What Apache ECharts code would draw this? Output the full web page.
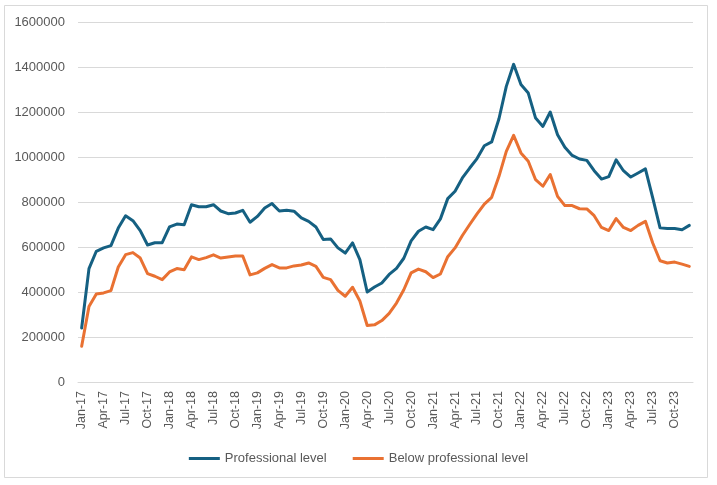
<!DOCTYPE html>
<html>
<head>
<meta charset="utf-8">
<script src="https://cdn.jsdelivr.net/npm/echarts@6/dist/echarts.min.js"></script>
<style>
html,body{margin:0;padding:0;background:#fff;}
#chart{width:717px;height:485px;}
</style>
</head>
<body>
<div id="chart"></div>
<script>
// Category labels: monthly Jan-17 .. Dec-23
const monthNames = ['Jan','Feb','Mar','Apr','May','Jun','Jul','Aug','Sep','Oct','Nov','Dec'];
const years = ['17','18','19','20','21','22','23'];
const categories = [];
years.forEach(y => monthNames.forEach(m => categories.push(m + '-' + y)));

const seriesNames = ['Professional level', 'Below professional level'];

const professional = [
  240000, 504000, 581000, 596000, 606000, 684000, 739000, 717000, 673000, 609000, 619000, 619000,
  689000, 702000, 699000, 788000, 779000, 779000, 788000, 760000, 748000, 751000, 763000, 710000,
  736000, 773000, 793000, 760000, 763000, 759000, 729000, 714000, 689000, 633000, 636000, 596000,
  573000, 618000, 544000, 400000, 422000, 440000, 478000, 505000, 550000, 627000, 670000, 689000,
  677000, 725000, 815000, 848000, 907000, 951000, 993000, 1050000, 1067000, 1170000, 1314000, 1412000,
  1322000, 1284000, 1173000, 1136000, 1200000, 1099000, 1043000, 1007000, 991000, 985000, 939000, 902000,
  913000, 987000, 939000, 911000, 929000, 947000, 818000, 685000, 682000, 682000, 677000, 696000
];

const belowProfessional = [
  159000, 336000, 391000, 396000, 406000, 511000, 566000, 575000, 551000, 482000, 470000, 455000,
  489000, 504000, 499000, 556000, 544000, 553000, 565000, 551000, 556000, 560000, 560000, 476000,
  485000, 505000, 522000, 507000, 507000, 516000, 520000, 529000, 514000, 465000, 455000, 407000,
  381000, 421000, 360000, 251000, 254000, 273000, 305000, 351000, 410000, 485000, 502000, 490000,
  464000, 480000, 557000, 596000, 651000, 700000, 747000, 791000, 821000, 914000, 1025000, 1096000,
  1018000, 981000, 899000, 870000, 922000, 825000, 784000, 784000, 770000, 769000, 739000, 687000,
  673000, 726000, 687000, 673000, 696000, 714000, 618000, 539000, 529000, 533000, 524000, 514000
];

const chart = echarts.init(document.getElementById('chart'), null, {renderer: 'canvas'});
const font = 'Liberation Sans, Arial, sans-serif';
chart.setOption({
  animation: false,
  backgroundColor: '#ffffff',
  color: ['#156082', '#E97132'],
  graphic: [{
    type: 'rect',
    shape: {x: 4.5, y: 5.5, width: 703, height: 472},
    style: {fill: 'none', stroke: '#d9d9d9', lineWidth: 1},
    silent: true
  }],
  grid: {left: 78, right: 24, top: 22, bottom: 103, containLabel: false},
  legend: {
    data: seriesNames,
    left: 'center',
    top: 447,
    icon: 'rect',
    itemWidth: 31,
    itemHeight: 3,
    itemGap: 26,
    textStyle: {color: '#595959', fontSize: 13, fontFamily: font}
  },
  xAxis: {
    type: 'category',
    data: categories,
    boundaryGap: true,
    axisLine: {show: true, lineStyle: {color: '#d9d9d9', width: 1}},
    axisTick: {show: false},
    axisLabel: {
      interval: 2,
      rotate: 90,
      margin: 9,
      color: '#595959',
      fontSize: 12.5,
      fontFamily: font
    },
    splitLine: {show: false}
  },
  yAxis: {
    type: 'value',
    min: 0,
    max: 1600000,
    interval: 200000,
    axisLine: {show: false},
    axisTick: {show: false},
    axisLabel: {
      margin: 13,
      color: '#595959',
      fontSize: 13,
      fontFamily: font,
      formatter: v => String(v)
    },
    splitLine: {show: true, lineStyle: {color: '#d9d9d9', width: 1}}
  },
  series: [
    {
      name: seriesNames[0],
      type: 'line',
      data: professional,
      symbol: 'none',
      lineStyle: {width: 3, cap: 'round', join: 'round'}
    },
    {
      name: seriesNames[1],
      type: 'line',
      data: belowProfessional,
      symbol: 'none',
      lineStyle: {width: 3, cap: 'round', join: 'round'}
    }
  ]
});
</script>
</body>
</html>
